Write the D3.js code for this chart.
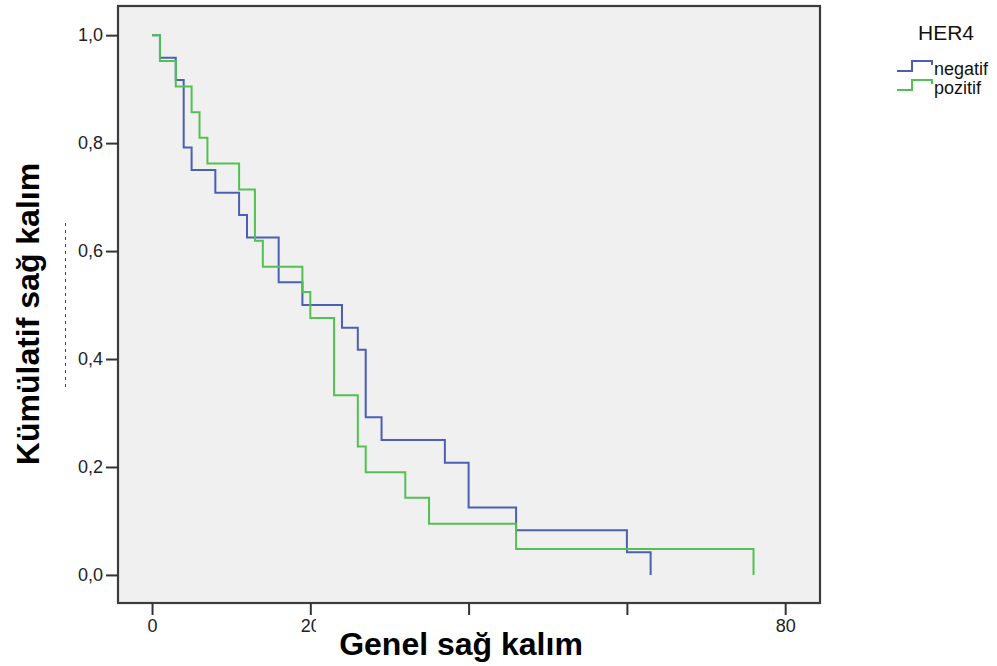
<!DOCTYPE html>
<html>
<head>
<meta charset="utf-8">
<script src="https://cdn.jsdelivr.net/npm/d3@7"></script>
<style>
  body { margin: 0; background: #fff; }
  svg { display: block; font-family: Arial, "Liberation Sans", sans-serif; }
</style>
</head>
<body>
<svg width="997" height="666"></svg>
<script>
// Kaplan-Meier estimates (time, cumulative survival)
const negTime = [0, 1, 3, 4, 5, 8, 11, 12, 16, 19, 24, 26, 27, 29, 37, 40, 46, 60, 63];
const negSurv = [1, 0.958, 0.917, 0.792, 0.75, 0.708, 0.667, 0.625, 0.542, 0.5, 0.458, 0.417, 0.292, 0.25, 0.208, 0.125, 0.083, 0.042, 0];
const pozTime = [0, 1, 3, 5, 6, 7, 11, 13, 14, 19, 20, 23, 26, 27, 32, 35, 46, 76];
const pozSurv = [1, 0.952, 0.905, 0.857, 0.81, 0.762, 0.714, 0.619, 0.571, 0.524, 0.476, 0.333, 0.238, 0.19, 0.143, 0.095, 0.048, 0];

const groups = ["negatif", "pozitif"];
const xTicks = [0, 20, 40, 60, 80];
// 40 and 60 labels are hidden under the axis caption in the original
const xTickLabels = ["0", "20", "", "", "80"];
const yTicks = [0, 0.2, 0.4, 0.6, 0.8, 1.0];

const svg = d3.select("svg");
const color = d3.scaleOrdinal().domain(groups).range(["#4b5fb4", "#52c152"]);

const x = d3.scaleLinear().domain([-4.3, 84.4]).range([118, 820]);
const y = d3.scaleLinear().domain([-0.052, 1.054]).range([603, 6]);

// plot background
svg.append("rect")
    .attr("x", x.range()[0])
    .attr("y", y.range()[1])
    .attr("width", x.range()[1] - x.range()[0])
    .attr("height", y.range()[0] - y.range()[1])
    .attr("fill", "#f0f0f0");

const series = [
    { name: "negatif", pts: negTime.map((t, i) => [t, negSurv[i]]) },
    { name: "pozitif", pts: pozTime.map((t, i) => [t, pozSurv[i]]) }
];

const line = d3.line()
    .x(d => x(d[0]))
    .y(d => y(d[1]))
    .curve(d3.curveStepAfter);

svg.append("g")
    .selectAll("path")
    .data(series)
    .enter().append("path")
    .attr("d", d => line(d.pts))
    .attr("fill", "none")
    .attr("stroke", d => color(d.name))
    .attr("stroke-width", 2);

// frame
svg.append("rect")
    .attr("x", x.range()[0])
    .attr("y", y.range()[1])
    .attr("width", x.range()[1] - x.range()[0])
    .attr("height", y.range()[0] - y.range()[1])
    .attr("fill", "none")
    .attr("stroke", "#3c3c3c")
    .attr("stroke-width", 2.2);

const yAxis = svg.append("g")
    .attr("transform", "translate(" + x.range()[0] + ",0)")
    .call(d3.axisLeft(y)
        .tickValues(yTicks)
        .tickSize(12)
        .tickPadding(3)
        .tickFormat(d => d3.format(".1f")(d).replace(".", ",")));

const xAxis = svg.append("g")
    .attr("transform", "translate(0," + y.range()[0] + ")")
    .call(d3.axisBottom(x)
        .tickValues(xTicks)
        .tickSize(12)
        .tickPadding(4)
        .tickFormat((d, i) => xTickLabels[i]));

[xAxis, yAxis].forEach(g => {
    g.select(".domain").remove();
    g.selectAll(".tick line").attr("stroke", "#333").attr("stroke-width", 2);
    g.selectAll(".tick text")
        .attr("font-family", "Arial, 'Liberation Sans', sans-serif")
        .attr("font-size", 18)
        .attr("fill", "#222");
});

// faint remnant of the original y caption
svg.append("line")
    .attr("x1", 65.5).attr("x2", 65.5)
    .attr("y1", 223).attr("y2", 388)
    .attr("stroke", "#444")
    .attr("stroke-width", 1)
    .attr("stroke-dasharray", "3,4");

// white patch cutting off the "20" label
svg.append("rect")
    .attr("x", 316).attr("y", 618)
    .attr("width", 330).attr("height", 48)
    .attr("fill", "#fff");

svg.append("text")
    .attr("x", 461)
    .attr("y", 655)
    .attr("text-anchor", "middle")
    .attr("font-size", 32)
    .attr("font-weight", "bold")
    .attr("fill", "#000")
    .text("Genel sağ kalım");

svg.append("text")
    .attr("transform", "translate(39,314) rotate(-90)")
    .attr("text-anchor", "middle")
    .attr("font-size", 32)
    .attr("font-weight", "bold")
    .attr("fill", "#000")
    .text("Kümülatif sağ kalım");

// legend
const legend = svg.append("g").attr("class", "legend");

legend.append("text")
    .attr("x", 946)
    .attr("y", 40)
    .attr("text-anchor", "middle")
    .attr("font-size", 21)
    .attr("fill", "#111")
    .text("HER4");

const item = legend.selectAll(".item")
    .data(groups)
    .enter().append("g")
    .attr("class", "item")
    .attr("transform", (d, i) => "translate(897," + (71 + i * 19) + ")");

item.append("path")
    .attr("d", "M0,0H15V-10H35V-6")
    .attr("fill", "none")
    .attr("stroke", d => color(d))
    .attr("stroke-width", 2);

item.append("text")
    .attr("x", 37)
    .attr("y", 4)
    .attr("font-size", 18)
    .attr("fill", "#111")
    .text(d => d);
</script>
</body>
</html>
